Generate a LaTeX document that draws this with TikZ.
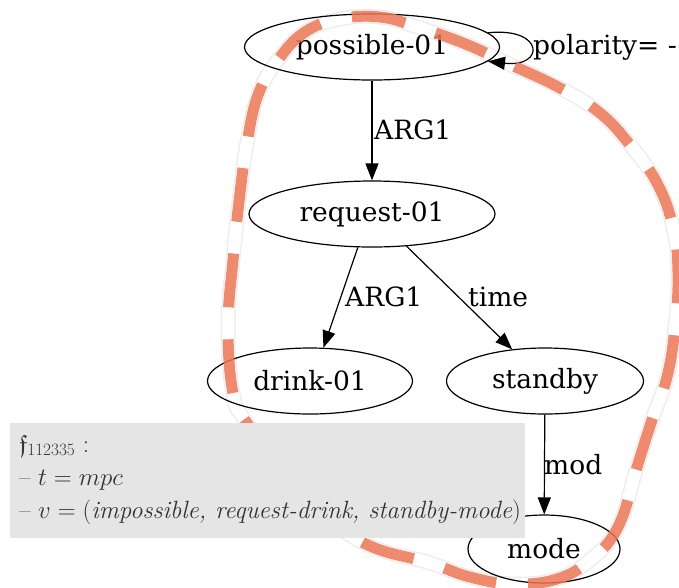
\documentclass[tikz,border=0pt]{standalone}
\usepackage{amssymb}
\usepackage{fontspec}
\setmainfont{DejaVu Serif}
\newfontfamily\lmr[Ligatures=TeX]{Latin Modern Roman}
\usetikzlibrary{arrows.meta,shapes.geometric}
\definecolor{hl}{RGB}{236,118,84}
\definecolor{boxgray}{RGB}{229,229,229}
\begin{document}
\begin{tikzpicture}[x=1pt,y=-1pt,
  amr/.style={ellipse,draw,line width=1.2pt,inner sep=0pt,minimum height=66pt,font=\fontsize{26.5}{30}\selectfont},
  edge/.style={line width=1.2pt,-{Triangle[length=17pt,width=13pt]}},
  elabel/.style={anchor=west,inner sep=0pt,font=\fontsize{26.5}{30}\selectfont},
  boxtext/.style={anchor=base west,inner sep=0pt,text=black!80,font=\lmr\fontsize{25}{30}\selectfont}]
\useasboundingbox (0,0) rectangle (679,587);
\def\hlpath{plot[smooth cycle, tension=0.7] coordinates {(247,423) (233,393) (228,327) (233,260) (240,193) (247,143) (258,95) (278,60) (305,32) (340,19) (380,17) (417,27) (463,43) (507,63) (560,88) (600,113) (630,145) (657,183) (673,227) (678,273) (675,327) (667,377) (652,420) (637,467) (618,527) (590,560) (557,579) (513,584) (470,577) (430,563) (360,541) (300,490)}}
% highlight halo (under the graph)
\draw[black!7, line width=15pt] \hlpath;
\draw[white, line width=12pt] \hlpath;
% nodes
\node[amr,minimum width=255pt] (p) at (372,47) {possible-01};
\node[amr,minimum width=246pt] (r) at (372,214) {request-01};
\node[amr,minimum width=205pt] (d) at (310,381) {drink-01};
\node[amr,minimum width=197pt] (s) at (545,381) {standby};
\node[amr,minimum width=152pt,minimum height=68pt] (m) at (544,549) {mode};
% edges
\draw[edge] (p) -- (r);
\draw[edge] (r.247) -- (d.68);
\draw[edge] (r.317) -- (s.136);
\draw[edge] (s) -- (m);
\draw[edge] (p.7) .. controls (545,27) and (545,68) .. (p.-7);
% labels
\node[elabel] (l1) at (374,130) {ARG1};
\node[elabel] (l2) at (345,297) {ARG1};
\node[elabel] (l3) at (468,297) {time};
\node[elabel] (l4) at (544,465) {mod};
\node[elabel] (l5) at (533,47) {polarity= -};
% highlight dashes (over the graph)
\draw[hl, line width=11pt, dash pattern=on 54pt off 32pt, opacity=.85] \hlpath;
% box
\node[fill=boxgray, minimum width=515pt, minimum height=115pt, inner sep=0pt, anchor=north west] (box) at (10,423) {};
\node[boxtext] (t1) at (19,452) {$\mathfrak{f}_{112335}$ :};
\node[boxtext] (t2) at (19,485) {\textendash\ $t = mpc$};
\node[boxtext] (t3) at (19,518) {\textendash\ $v = (\textit{impossible, request-drink, standby-mode})$};
\end{tikzpicture}
\end{document}
